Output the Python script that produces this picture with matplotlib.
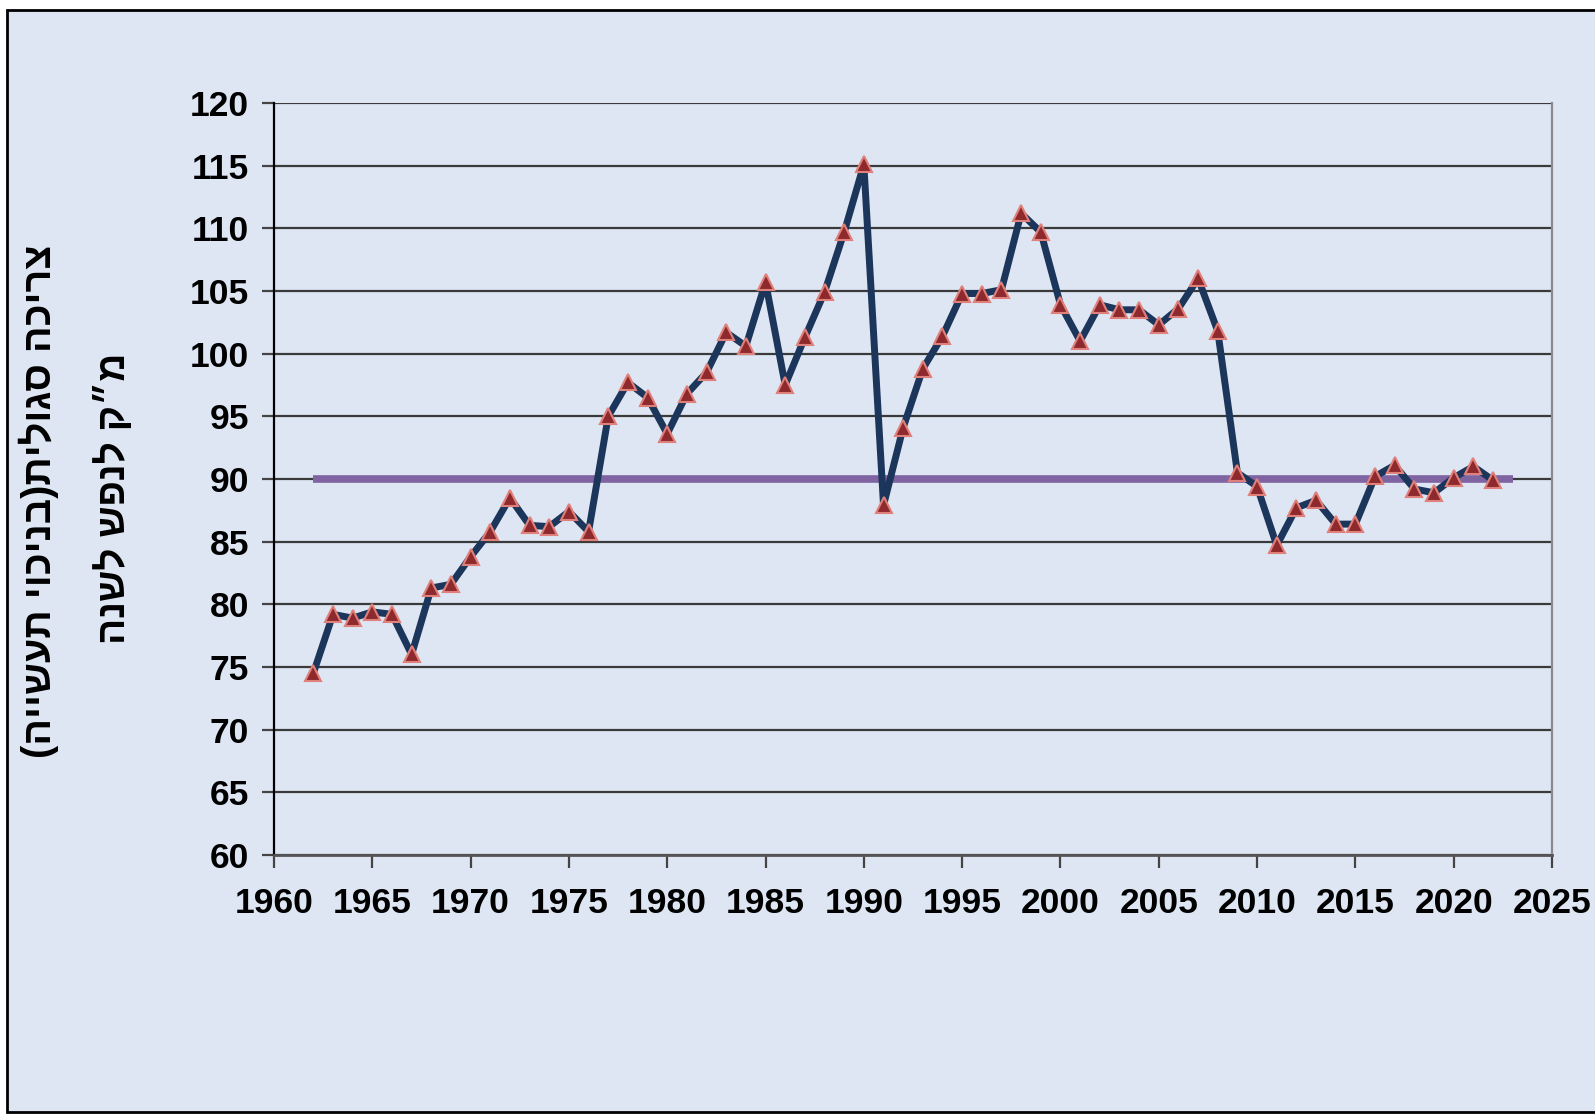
"""
Specific water consumption per capita (net of industry), 1962-2022,
with a reference line at 90 m^3 per person per year.
"""

import matplotlib.pyplot as plt
from matplotlib.patches import Rectangle

YEARS = list(range(1962, 2023))
CONSUMPTION = [
	74.5, 79.2, 78.9, 79.4, 79.2, 76.0, 81.3, 81.6, 83.8, 85.8,
	88.5, 86.3, 86.2, 87.4, 85.8, 95.0, 97.7, 96.5, 93.6, 96.8,
	98.5, 101.7, 100.6, 105.7, 97.5, 101.3, 104.9, 109.7, 115.1, 87.9,
	94.1, 98.8, 101.4, 104.8, 104.8, 105.1, 111.2, 109.7, 103.9, 101.0,
	103.9, 103.5, 103.5, 102.3, 103.6, 106.0, 101.8, 90.5, 89.4, 84.7,
	87.7, 88.3, 86.4, 86.4, 90.2, 91.1, 89.2, 88.9, 90.1, 91.0,
	89.9,
]
TARGET_YEARS = [1962, 2023]
TARGET_LEVEL = [90, 90]

XTICKS = list(range(1960, 2030, 5))
YTICKS = list(range(60, 125, 5))
XLIM = [1960, 2025]
YLIM = [60, 120]

OUTER_LABEL = "צריכה סגולית(בניכוי תעשייה)"
INNER_LABEL = "מ״ק לנפש לשנה"

BG = "#dee6f3"
TICK_FONT = ["Liberation Sans Narrow", "Liberation Sans", "DejaVu Sans"]
HEB_FONT = ["Liberation Sans", "DejaVu Sans"]


def visual_rtl(text):
	# matplotlib has no bidi support: lay out the glyphs in visual order
	swap = str.maketrans("()", ")(")
	return text[::-1].translate(swap)


def main():
	fig = plt.figure(figsize = (15.95, 11.14), dpi = 100, facecolor = "white")
	fig.patches.append(Rectangle((7 / 1595, 2 / 1114), 1.0,
		1 - 12 / 1114, transform = fig.transFigure, facecolor = BG,
		edgecolor = "black", linewidth = 2, zorder = -10))

	ax = fig.add_axes([274 / 1595, 259 / 1114, 1278 / 1595, 752 / 1114])
	ax.set_facecolor(BG)
	ax.set_xlim(XLIM)
	ax.set_ylim(YLIM)
	ax.set_xticks(XTICKS)
	ax.set_yticks(YTICKS)
	ax.yaxis.grid(True, color = "#3a3a3a", linewidth = 1.6)
	ax.set_axisbelow(True)
	ax.spines["top"].set_visible(False)
	ax.spines["left"].set_color("black")
	ax.spines["left"].set_linewidth(1.6)
	ax.spines["bottom"].set_color("#555555")
	ax.spines["bottom"].set_linewidth(2)
	ax.spines["right"].set_color("#8a8a8a")
	ax.spines["right"].set_linewidth(1.6)
	ax.tick_params(axis = "both", direction = "out", length = 9, width = 1.6,
		color = "#444444", pad = 9)
	for lab in ax.get_xticklabels() + ax.get_yticklabels():
		lab.set_family(TICK_FONT)
		lab.set_fontweight("bold")
		lab.set_fontsize(25.5)
	ax.tick_params(axis = "x", pad = 14)

	ax.plot(TARGET_YEARS, TARGET_LEVEL, color = "#8064a2", linewidth = 5.5,
		solid_capstyle = "butt", zorder = 2)
	ax.plot(YEARS, CONSUMPTION, color = "#1c355a", linewidth = 5,
		marker = "^", markersize = 11.5, markerfacecolor = "#8e2a2e",
		markeredgecolor = "#e0807a", markeredgewidth = 1.5, zorder = 3)

	fig.text(39 / 1595, 1 - 501 / 1114, visual_rtl(OUTER_LABEL), rotation = 90,
		ha = "center", va = "center", fontsize = 28.5, fontweight = "bold",
		family = HEB_FONT)
	fig.text(114 / 1595, 1 - 498 / 1114, visual_rtl(INNER_LABEL), rotation = 90,
		ha = "center", va = "center", fontsize = 28, fontweight = "bold",
		family = HEB_FONT)

	fig.savefig("out.png", dpi = 100, facecolor = "white")


if __name__ == "__main__":
	main()
